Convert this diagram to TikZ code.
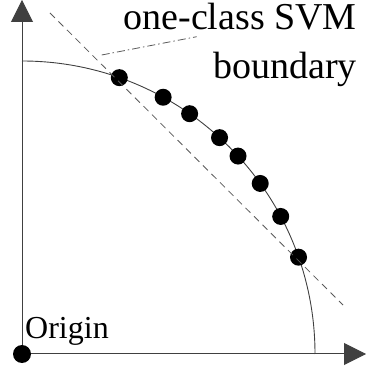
\documentclass[tikz,border=0pt]{standalone}
\usepackage{fontspec}
\setmainfont{Liberation Serif}
\usetikzlibrary{arrows.meta}

\begin{document}
\begin{tikzpicture}[
  x=1pt, y=1pt,
  axis/.style={draw=black!75, line width=1pt, -{Triangle[length=22pt,width=22pt]}},
  sample/.style={circle, fill=black, inner sep=0pt, minimum size=17pt},
  boundary/.style={draw=black!75, line width=0.9pt},
  svmline/.style={draw=black!65, line width=0.8pt, dash pattern=on 7pt off 5pt},
  leader/.style={draw=black!65, line width=0.8pt, dash pattern=on 8pt off 3pt on 1.5pt off 3pt},
  bigtext/.style={font=\fontsize{38}{49}\selectfont, inner sep=0pt, align=right},
  smalltext/.style={font=\fontsize{32}{38}\selectfont, inner sep=0pt}
]
\useasboundingbox (-22,-15) rectangle (344,354);
% axes
\coordinate (orig) at (0,0);
\coordinate (ytop) at (0,354);
\coordinate (xend) at (344,0);
\draw[axis] (orig) -- (ytop);
\draw[axis] (orig) -- (xend);
\node[sample, minimum size=18pt] (O) at (orig) {};
\node[smalltext, anchor=base west] (origlabel) at (3,15) {Origin};
% boundary arc
\coordinate (arcstart) at (293,0);
\draw[boundary] (arcstart) arc[start angle=0, end angle=90, radius=293pt];
% samples on the boundary
\foreach \a [count=\i] in {70.6,61.2,55.1,47.6,42.5,35.6,28.0,19.3}
  \node[sample] (p\i) at (\a:293) {};
% linear SVM boundary
\coordinate (h1) at (28,341);
\coordinate (h2) at (321,49);
\draw[svmline] (h1) -- (h2);
% label
\node[bigtext, anchor=north east] (svmlabel) at (335,351) {one-class SVM\\boundary};
\coordinate (lead1) at (79.7,299);
\coordinate (lead2) at (174.7,317.3);
\draw[leader] (lead1) -- (lead2);
\end{tikzpicture}
\end{document}
